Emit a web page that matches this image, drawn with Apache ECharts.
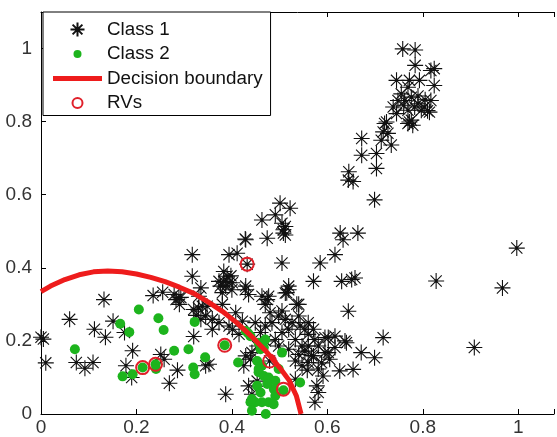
<!DOCTYPE html>
<html>
<head>
<meta charset="utf-8">
<style>
  html, body { margin: 0; padding: 0; background: #fff; }
  #chart { width: 557px; height: 437px; }
</style>
<script src="https://cdn.jsdelivr.net/npm/echarts@6/dist/echarts.min.js"></script>
</head>
<body>
<div id="chart"></div>
<script>
// tick labels shown on the axes
const xTickLabels = ['0', '0.2', '0.4', '0.6', '0.8', '1'];
const yTickLabels = ['0', '0.2', '0.4', '0.6', '0.8', '1'];

// Class 1 (black asterisks), [x, y]
const class1 = [
  [0.0, 0.21], [0.005, 0.205], [0.01, 0.14], [0.06, 0.259], [0.074, 0.141], [0.092, 0.125],
  [0.109, 0.141], [0.112, 0.232], [0.135, 0.21], [0.132, 0.313], [0.151, 0.254], [0.175, 0.223],
  [0.192, 0.173], [0.178, 0.132], [0.19, 0.1], [0.251, 0.163], [0.258, 0.15], [0.269, 0.084],
  [0.286, 0.12], [0.235, 0.324], [0.255, 0.333], [0.283, 0.313], [0.29, 0.3], [0.293, 0.319],
  [0.317, 0.436], [0.317, 0.377], [0.32, 0.286], [0.32, 0.212], [0.335, 0.345], [0.325, 0.27],
  [0.33, 0.29], [0.345, 0.132], [0.279, 0.327], [0.289, 0.318],
  [0.429, 0.477], [0.474, 0.481], [0.508, 0.495], [0.394, 0.436], [0.411, 0.44], [0.432, 0.41],
  [0.505, 0.413], [0.585, 0.413], [0.616, 0.436], [0.463, 0.531], [0.428, 0.479],
  [0.501, 0.577], [0.522, 0.563], [0.491, 0.545], [0.505, 0.522], [0.512, 0.513], [0.508, 0.504],
  [0.512, 0.49],
  [0.383, 0.39], [0.39, 0.377], [0.383, 0.363], [0.394, 0.359], [0.376, 0.35], [0.4, 0.34],
  [0.38, 0.332], [0.398, 0.378], [0.428, 0.34], [0.435, 0.327], [0.463, 0.322], [0.331, 0.322],
  [0.338, 0.295], [0.348, 0.295], [0.38, 0.3], [0.474, 0.313], [0.512, 0.331], [0.519, 0.34],
  [0.536, 0.3], [0.571, 0.363], [0.63, 0.363], [0.651, 0.368], [0.658, 0.372], [0.644, 0.281],
  [0.373, 0.363], [0.387, 0.35], [0.401, 0.359], [0.429, 0.35], [0.477, 0.322], [0.515, 0.332],
  [0.519, 0.35], [0.54, 0.3], [0.47, 0.3], [0.48, 0.277], [0.505, 0.282], [0.512, 0.259],
  [0.526, 0.25], [0.54, 0.268], [0.543, 0.241], [0.553, 0.232], [0.56, 0.218], [0.571, 0.232],
  [0.574, 0.204], [0.581, 0.186], [0.595, 0.209], [0.595, 0.168], [0.605, 0.15], [0.571, 0.159],
  [0.581, 0.123], [0.591, 0.104], [0.578, 0.077], [0.581, 0.059], [0.616, 0.213], [0.616, 0.182],
  [0.574, 0.032], [0.547, 0.132], [0.533, 0.145], [0.519, 0.232], [0.505, 0.223], [0.498, 0.186],
  [0.491, 0.204], [0.47, 0.2], [0.453, 0.186], [0.442, 0.168], [0.439, 0.15], [0.429, 0.159],
  [0.425, 0.132], [0.352, 0.136], [0.387, 0.054], [0.442, 0.054], [0.435, 0.077], [0.422, 0.254],
  [0.394, 0.241], [0.373, 0.25], [0.359, 0.259], [0.345, 0.268], [0.335, 0.259], [0.408, 0.277],
  [0.401, 0.232], [0.415, 0.218], [0.359, 0.232], [0.47, 0.241], [0.449, 0.25], [0.46, 0.223],
  [0.484, 0.25], [0.498, 0.268], [0.56, 0.25], [0.533, 0.204], [0.547, 0.186], [0.553, 0.172],
  [0.54, 0.163], [0.56, 0.141], [0.519, 0.177], [0.533, 0.095], [0.479, 0.145], [0.453, 0.09],
  [0.567, 0.16], [0.588, 0.14], [0.56, 0.186], [0.558, 0.12],
  [0.627, 0.495], [0.633, 0.477], [0.664, 0.495], [0.602, 0.209], [0.637, 0.2], [0.64, 0.195],
  [0.671, 0.168], [0.699, 0.154], [0.717, 0.209], [0.626, 0.118], [0.654, 0.122], [0.602, 0.168],
  [0.828, 0.364], [0.967, 0.345], [0.997, 0.454], [0.908, 0.182], [0.699, 0.586],
  [0.672, 0.754], [0.672, 0.708], [0.703, 0.713], [0.703, 0.672], [0.645, 0.663], [0.644, 0.64],
  [0.654, 0.636], [0.72, 0.795], [0.727, 0.768], [0.713, 0.749], [0.734, 0.736], [0.769, 0.795],
  [0.779, 0.79], [0.724, 0.799], [0.717, 0.772], [0.772, 0.799],
  [0.758, 0.999], [0.784, 0.996], [0.784, 0.954], [0.817, 0.94], [0.824, 0.945], [0.824, 0.899],
  [0.745, 0.913], [0.772, 0.913], [0.793, 0.913], [0.769, 0.894], [0.755, 0.876], [0.748, 0.858],
  [0.762, 0.858], [0.776, 0.867], [0.79, 0.849], [0.803, 0.84], [0.817, 0.858], [0.814, 0.826],
  [0.738, 0.84], [0.745, 0.822], [0.769, 0.831], [0.776, 0.804], [0.797, 0.831], [0.783, 0.84],
  [0.76, 0.845], [0.79, 0.87], [0.805, 0.86], [0.81, 0.83]
];

// Class 2 (green dots), [x, y]
const class2 = [
  [0.071, 0.177], [0.171, 0.103], [0.192, 0.109], [0.213, 0.127], [0.24, 0.136], [0.241, 0.123],
  [0.166, 0.247], [0.185, 0.224], [0.205, 0.286], [0.246, 0.262], [0.257, 0.23], [0.279, 0.173],
  [0.309, 0.177], [0.319, 0.127], [0.322, 0.109], [0.322, 0.252], [0.344, 0.155], [0.385, 0.188],
  [0.413, 0.141], [0.429, 0.227], [0.439, 0.213], [0.456, 0.195], [0.467, 0.182], [0.47, 0.204],
  [0.453, 0.145], [0.463, 0.132], [0.456, 0.114], [0.467, 0.104], [0.477, 0.1], [0.491, 0.091],
  [0.488, 0.068], [0.474, 0.082], [0.505, 0.168], [0.508, 0.065], [0.491, 0.05], [0.477, 0.032],
  [0.463, 0.032], [0.449, 0.032], [0.439, 0.032], [0.442, 0.009], [0.471, 0.0], [0.4875, 0.027],
  [0.543, 0.086], [0.453, 0.077], [0.46, 0.059], [0.46, 0.177], [0.456, 0.123], [0.442, 0.041],
  [0.498, 0.123], [0.434, 0.221]
];

// decision boundary, [x, y]
const boundary = [
  [0, 0.335], [0.02, 0.35], [0.05, 0.368], [0.08, 0.381], [0.11, 0.389], [0.14, 0.391],
  [0.17, 0.389], [0.2, 0.383], [0.23, 0.374], [0.26, 0.362], [0.29, 0.347], [0.32, 0.33],
  [0.35, 0.307], [0.38, 0.281], [0.41, 0.25], [0.44, 0.214], [0.47, 0.174], [0.5, 0.127],
  [0.52, 0.092], [0.535, 0.05], [0.543, 0.01], [0.545, 0]
];

// relevance vectors, [x, y]
const rvs = [
  [0.213, 0.127], [0.24, 0.136], [0.385, 0.188], [0.432, 0.41], [0.479, 0.145], [0.508, 0.068]
];

// asterisk marker (+ and x) with a small centre dot
const starPath = 'path://M0,-8L0,8M-8,0L8,0M-5.6,-5.6L5.6,5.6M5.6,-5.6L-5.6,5.6' +
  'M-1.2,0A1.2,1.2,0,1,0,1.2,0A1.2,1.2,0,1,0,-1.2,0Z';
const dotIcon = 'path://M-7,-7L-7,-7M7,7L7,7M-4,0A4,4,0,1,0,4,0A4,4,0,1,0,-4,0Z';
const ringIcon = 'path://M-7,-7L-7,-7M7,7L7,7M-5,0A5,5,0,1,0,5,0A5,5,0,1,0,-5,0Z';
const lineIcon = 'path://M0,0H49V5H0Z';

const font = '"Liberation Sans", Arial, sans-serif';
const tickFmt = (labels) => (v) => {
  const s = String(Math.round(v * 10) / 10);
  return labels.includes(s) ? s : '';
};

const chart = echarts.init(document.getElementById('chart'));

// the figure is cropped on the right, so the x range ends where the window ends
const axisCommon = {
  type: 'value',
  min: 0,
  interval: 0.2,
  splitLine: { show: false },
  axisLine: { show: true, onZero: false, lineStyle: { color: '#000', width: 1 } },
  axisTick: { show: true, inside: true, length: 5, lineStyle: { color: '#000' } },
};

chart.setOption({
  animation: false,
  grid: { left: 41, right: 0, top: 12, bottom: 22 },
  legend: {
    orient: 'vertical',
    left: 43,
    top: 12,
    padding: [8, 8, 3, 10],
    itemWidth: 49,
    itemHeight: 14,
    itemGap: 5.5,
    selectedMode: false,
    backgroundColor: '#fff',
    borderColor: '#000',
    borderWidth: 1,
    textStyle: { fontSize: 18.8, color: '#111', fontFamily: font },
    data: [
      { name: 'Class 1', icon: starPath },
      { name: 'Class 2', icon: dotIcon },
      { name: 'Decision boundary', icon: lineIcon, itemStyle: { borderWidth: 0 } },
      { name: 'RVs', icon: ringIcon },
    ],
  },
  xAxis: [
    Object.assign({}, axisCommon, {
      max: 1.075,
      position: 'bottom',
      axisLabel: { formatter: tickFmt(xTickLabels), fontSize: 19, color: '#333', fontFamily: font, margin: 4 },
    }),
    Object.assign({}, axisCommon, {
      max: 1.075,
      position: 'top',
      axisLabel: { show: false },
    }),
  ],
  yAxis: Object.assign({}, axisCommon, {
    max: 1.1,
    position: 'left',
    axisLabel: { formatter: tickFmt(yTickLabels), fontSize: 19, color: '#333', fontFamily: font, margin: 9 },
  }),
  series: [
    {
      name: 'Class 1',
      type: 'scatter',
      data: class1,
      symbol: starPath,
      symbolSize: 16,
      clip: false,
      itemStyle: { color: '#111', borderColor: '#111', borderWidth: 1.1, opacity: 1 },
    },
    {
      name: 'Class 2',
      type: 'scatter',
      data: class2,
      symbol: 'circle',
      symbolSize: 10,
      clip: false,
      itemStyle: { color: '#1db41d', opacity: 1 },
    },
    {
      name: 'Decision boundary',
      type: 'line',
      data: boundary,
      symbol: 'none',
      showSymbol: false,
      itemStyle: { color: '#ee1c1c' },
      lineStyle: { color: '#ee1c1c', width: 5 },
    },
    {
      name: 'RVs',
      type: 'scatter',
      data: rvs,
      symbol: 'circle',
      symbolSize: 13,
      clip: false,
      itemStyle: { color: 'rgba(0,0,0,0)', borderColor: '#e0202a', borderWidth: 2, opacity: 1 },
    },
  ],
});
</script>
</body>
</html>
